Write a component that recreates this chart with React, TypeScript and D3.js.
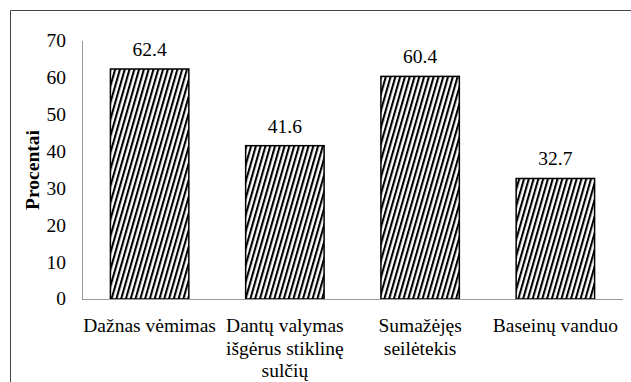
import React from "react";
import * as d3 from "d3";

const categories: string[][] = [
  ["Dažnas vėmimas"],
  ["Dantų valymas", "išgėrus stiklinę", "sulčių"],
  ["Sumažėjęs", "seilėtekis"],
  ["Baseinų vanduo"],
];
const values: number[] = [62.4, 41.6, 60.4, 32.7];
const yTicks: number[] = [0, 10, 20, 30, 40, 50, 60, 70];
const yTitle = "Procentai";

const W = 631;
const H = 382;
const plot = { left: 82, right: 623, top: 41, bottom: 299 };
const FF = "Liberation Serif";
const FS = 19.5;

export default function App() {
  const x = d3
    .scaleBand<number>()
    .domain(values.map((_, i) => i))
    .range([plot.left, plot.right])
    .paddingInner(0.42)
    .paddingOuter(0.21);
  const y = d3.scaleLinear().domain([0, 70]).range([plot.bottom, plot.top]);

  return (
    <svg
      width={W}
      height={H}
      fontFamily={FF}
      fontSize={FS}
      style={{ position: "absolute", left: 0, top: 0, background: "#fff" }}
    >
      <defs>
        <pattern
          id="hatch"
          width={4.6}
          height={10}
          patternUnits="userSpaceOnUse"
          patternTransform="rotate(16)"
        >
          <rect x={0} y={0} width={4.6} height={10} fill="#fff" />
          <rect x={0} y={0} width={2.1} height={10} fill="#000" />
        </pattern>
      </defs>
      <path
        d={`M10.5,${H + 5} L10.5,10.5 L${W + 5},10.5`}
        fill="none"
        stroke="#444"
        strokeWidth={1}
      />
      <line
        x1={plot.left + 0.5}
        x2={plot.left + 0.5}
        y1={plot.top}
        y2={plot.bottom}
        stroke="#999"
      />
      {yTicks.map((t) => (
        <text
          key={t}
          x={66}
          y={y(t)}
          dy="0.33em"
          textAnchor="end"
          fontFamily={FF}
          fontSize={FS}
          fill="#000"
        >
          {t}
        </text>
      ))}
      <text
        transform={`translate(39,${(plot.top + plot.bottom) / 2}) rotate(-90)`}
        textAnchor="middle"
        fontFamily={FF}
        fontSize={FS}
        fontWeight="bold"
        fill="#000"
      >
        {yTitle}
      </text>
      {values.map((v, i) => {
        const bx = x(i)!;
        const bw = x.bandwidth();
        return (
          <g key={i}>
            <rect
              x={bx}
              y={y(v)}
              width={bw}
              height={plot.bottom - y(v)}
              fill="url(#hatch)"
              stroke="#000"
              strokeWidth={1.5}
            />
            <text
              x={bx + bw / 2}
              y={y(v) - 13}
              textAnchor="middle"
              fontFamily={FF}
              fontSize={FS}
              fill="#000"
            >
              {v.toFixed(1)}
            </text>
            {categories[i].map((line, j) => (
              <text
                key={j}
                x={bx + bw / 2}
                y={332 + j * 22.5}
                textAnchor="middle"
                fontFamily={FF}
                fontSize={FS}
                fill="#000"
              >
                {line}
              </text>
            ))}
          </g>
        );
      })}
      <line
        x1={plot.left}
        x2={plot.right}
        y1={plot.bottom + 0.5}
        y2={plot.bottom + 0.5}
        stroke="#999"
      />
    </svg>
  );
}
